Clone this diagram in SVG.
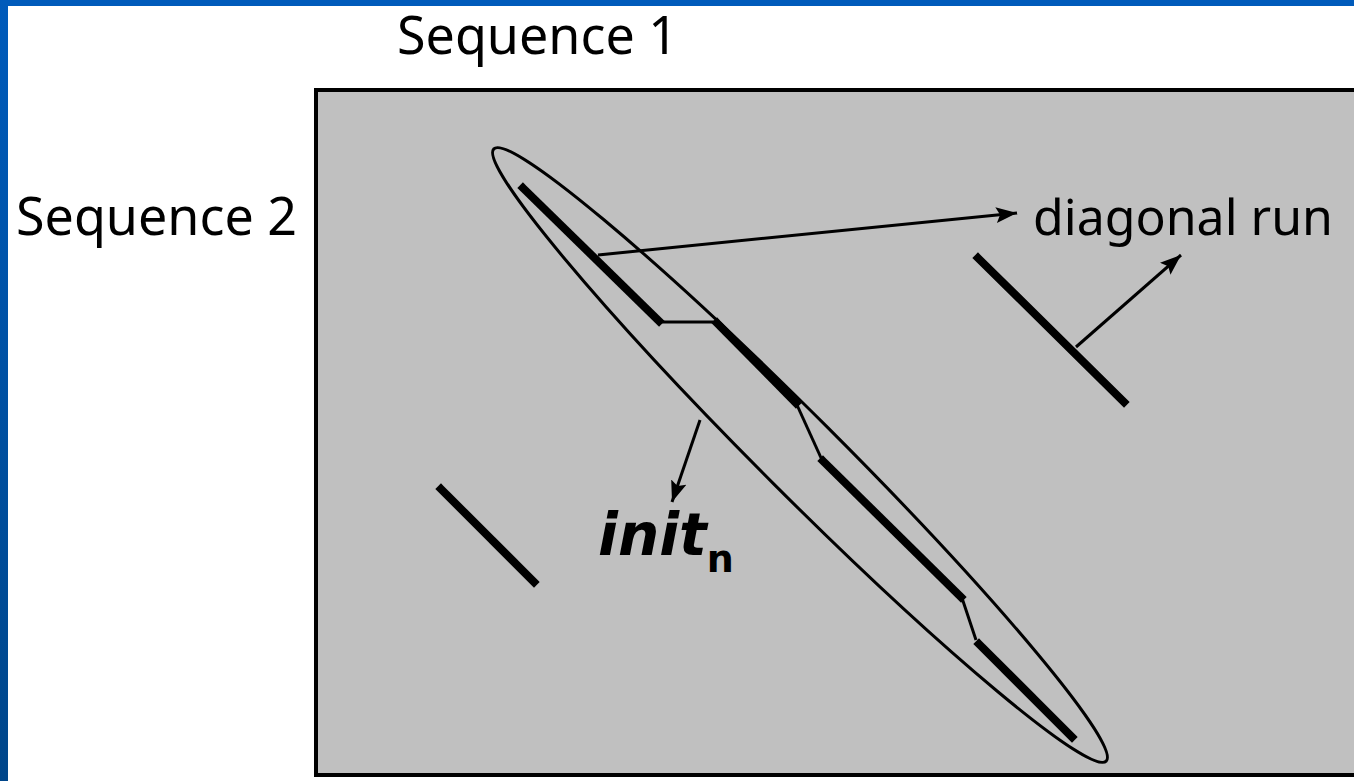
<svg xmlns="http://www.w3.org/2000/svg" width="1354" height="781" viewBox="0 0 1354 781">
  <defs>
    <linearGradient id="leftBar" x1="0" y1="0" x2="0" y2="1">
      <stop offset="0" stop-color="#005bbb"/>
      <stop offset="1" stop-color="#00468a"/>
    </linearGradient>
    <marker id="arrow" markerUnits="userSpaceOnUse" markerWidth="22" markerHeight="18" refX="21" refY="9" orient="auto">
      <path d="M0,1 L21,9 L0,17 L4,9 z" fill="#000"/>
    </marker>
    <style>
      .lbl { font-family: "Noto Sans", "DejaVu Sans", sans-serif; font-size: 50px; fill: #000; }
      .seq { font-size: 52px; }
      .run { stroke: #000; stroke-width: 8; stroke-linecap: square; fill: none; }
      .link { stroke: #000; stroke-width: 3; fill: none; }
      .arr { stroke: #000; stroke-width: 3; fill: none; marker-end: url(#arrow); }
    </style>
  </defs>

  <rect x="0" y="0" width="1354" height="781" fill="#ffffff"/>
  <rect x="0" y="0" width="1354" height="6" fill="#005bbb"/>
  <rect x="0" y="0" width="8" height="781" fill="url(#leftBar)"/>

  <g id="dotplot">
    <rect x="316" y="90" width="1060" height="685" fill="#c0c0c0" stroke="#000" stroke-width="4"/>
  </g>

  <g id="labels">
    <text class="lbl seq" x="397" y="54">Sequence 1</text>
    <text class="lbl seq" x="16" y="235">Sequence 2</text>
    <text class="lbl" x="1033" y="235">diagonal run</text>
    <text x="598" y="555" font-family="'DejaVu Sans', 'Noto Sans', sans-serif" font-size="58" font-weight="bold" font-style="italic" fill="#000">init<tspan dy="17" font-size="38" font-style="normal">n</tspan></text>
  </g>

  <g id="region">
    <ellipse cx="800" cy="455" rx="433" ry="39" transform="rotate(45 800 455)" fill="none" stroke="#000" stroke-width="3"/>
  </g>

  <g id="chain">
    <line class="run" x1="523" y1="188" x2="659" y2="321"/>
    <polyline class="link" points="659,322 716,322"/>
    <line class="run" x1="717" y1="323" x2="796" y2="403"/>
    <polyline class="link" points="797,405 822,460"/>
    <line class="run" x1="823" y1="461" x2="961" y2="597"/>
    <polyline class="link" points="962,598 976,640"/>
    <line class="run" x1="979" y1="644" x2="1072" y2="737"/>
  </g>

  <g id="run-right">
    <line class="run" x1="978" y1="258" x2="1124" y2="402"/>
  </g>
  <g id="run-left">
    <line class="run" x1="441" y1="489" x2="534" y2="582"/>
  </g>

  <g id="connectors">
    <line class="arr" x1="598" y1="255" x2="1017" y2="213"/>
    <line class="arr" x1="1076" y1="347" x2="1181" y2="255"/>
    <line class="arr" x1="700" y1="420" x2="672" y2="502"/>
  </g>
</svg>
